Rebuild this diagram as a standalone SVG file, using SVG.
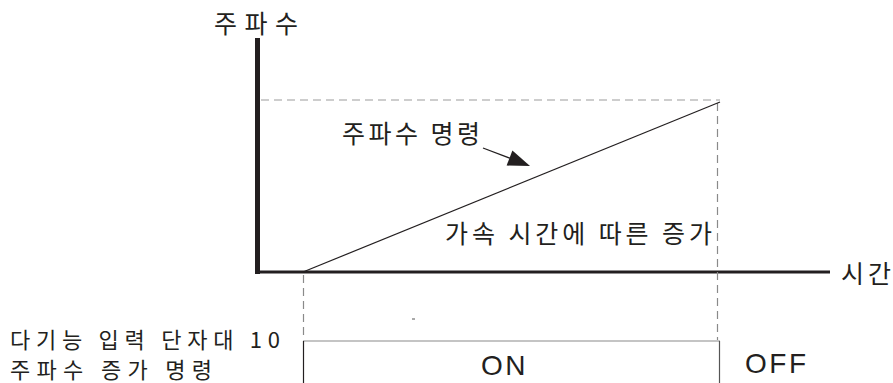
<svg xmlns="http://www.w3.org/2000/svg" width="893" height="383" viewBox="0 0 893 383">
<style>
.kr{font-family:"Noto Sans CJK KR","Noto Sans",sans-serif;font-size:25px;fill:#231f20}
.en{font-family:"Liberation Sans",Arial,sans-serif;font-size:28px;fill:#231f20;letter-spacing:2.5px}
.dashL{stroke:#bdbdbd;stroke-width:1.5;stroke-dasharray:8 5;fill:none}
.dashD{stroke:#8a8a8a;stroke-width:1.2;stroke-dasharray:8 5;fill:none}
.thin{stroke:#231f20;stroke-width:1.2;fill:none}
</style>
<rect width="893" height="383" fill="#fff"/>
<g id="axes">
<line x1="257.5" y1="38" x2="257.5" y2="274" stroke="#231f20" stroke-width="5"/>
<line x1="255" y1="272" x2="830" y2="272" stroke="#231f20" stroke-width="3"/>
<text class="kr" x="214" y="33" textLength="84" lengthAdjust="spacing">주파수</text>
<text class="kr" x="841" y="283" textLength="50" lengthAdjust="spacing">시간</text>
</g>
<g id="guides">
<line class="dashL" x1="261" y1="100" x2="720" y2="100"/>
<line class="dashD" x1="303.5" y1="275" x2="303.5" y2="340"/>
<line class="dashD" x1="717.5" y1="103" x2="717.5" y2="340"/>
</g>
<g id="ramp">
<line class="thin" x1="303" y1="272" x2="720" y2="102"/>
<text class="kr" x="445" y="243" textLength="267" lengthAdjust="spacing">가속 시간에 따른 증가</text>
</g>
<g id="command-label">
<text class="kr" x="342" y="143" textLength="138" lengthAdjust="spacing">주파수 명령</text>
</g>
<g id="connectors">
<line class="thin" x1="483" y1="148" x2="512" y2="159"/>
<polygon points="530,166 506.6,165.6 512.4,150.6" fill="#231f20"/>
</g>
<g id="signal">
<line x1="303" y1="341" x2="720" y2="341" stroke="#8a8a8a" stroke-width="1.2"/>
<line x1="303.5" y1="341" x2="303.5" y2="383" stroke="#231f20" stroke-width="1.2"/>
<line x1="719.5" y1="341" x2="719.5" y2="383" stroke="#555" stroke-width="1.2"/>
<line x1="412" y1="319" x2="415" y2="319" stroke="#555" stroke-width="1"/>
<text class="en" x="481" y="375">ON</text>
<text class="en" x="745" y="373">OFF</text>
</g>
<g id="input-label">
<text class="kr" style="font-size:22px"><tspan x="10" y="348" textLength="270" lengthAdjust="spacing">다기능 입력 단자대 10</tspan><tspan x="10" y="378" textLength="202" lengthAdjust="spacing">주파수 증가 명령</tspan></text>
</g>
</svg>
